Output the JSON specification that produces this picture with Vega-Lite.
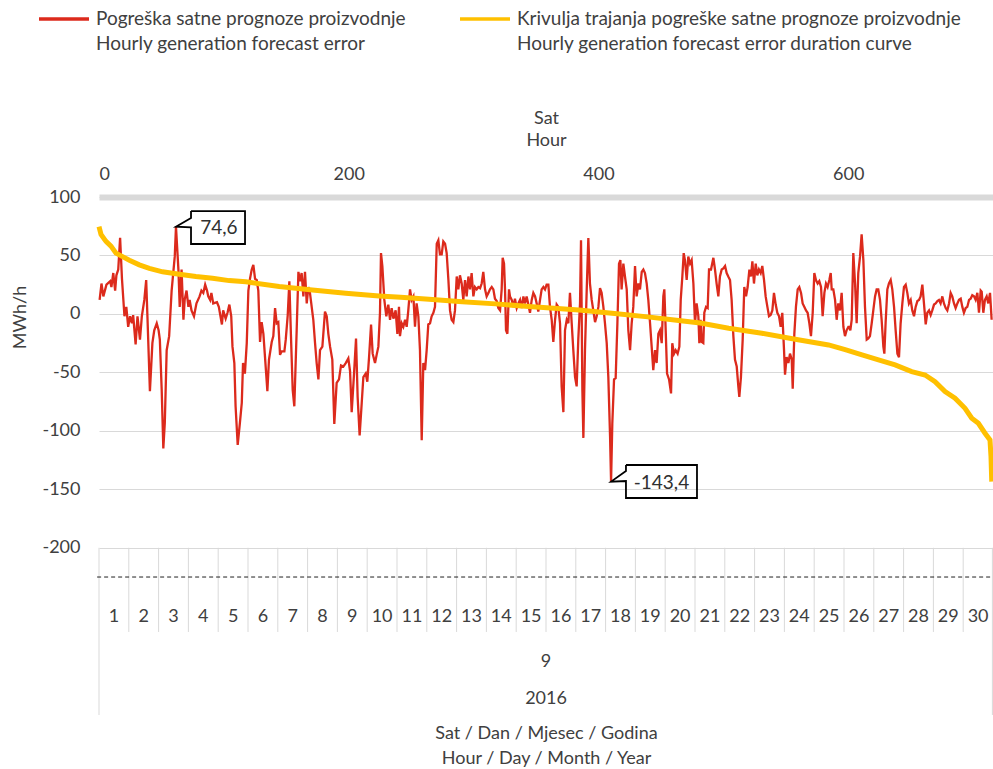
{
  "$schema": "https://vega.github.io/schema/vega-lite/v6.json",
  "width": 894,
  "height": 518,
  "autosize": {"type": "none"},
  "padding": {"left": 99, "top": 197, "right": 0, "bottom": 54},
  "config": {
    "view": {"stroke": null},
    "font": "Lato",
    "axis": {"labelFont": "Lato", "titleFont": "Lato", "labelColor": "#404040", "titleColor": "#404040", "titleFontWeight": "normal"},
    "text": {"font": "Lato", "color": "#404040", "fontSize": 18}
  },
  "datasets": {
    "red": [
      {"h":0.5,"v":12},{"h":2,"v":26},{"h":3.5,"v":15},{"h":6,"v":25},{"h":9,"v":28},{"h":10,"v":23},{"h":11.5,"v":35},{"h":13,"v":20},{"h":14,"v":33},{"h":15.5,"v":38},{"h":17,"v":65},{"h":18.5,"v":30},{"h":20.5,"v":-2},{"h":22,"v":6},{"h":23.5,"v":-11},{"h":25,"v":-2},{"h":26.5,"v":-8},{"h":27.5,"v":-1},{"h":29.5,"v":-26},{"h":31,"v":-2},{"h":33,"v":-22},{"h":34.5,"v":-2},{"h":36.5,"v":12},{"h":38,"v":29},{"h":39,"v":-2},{"h":41,"v":-66},{"h":43,"v":-25},{"h":44.5,"v":-14},{"h":46.5,"v":-8},{"h":48,"v":-14},{"h":49,"v":-22},{"h":50.5,"v":-65},{"h":51.8,"v":-115},{"h":53,"v":-93},{"h":54.5,"v":-31},{"h":56.5,"v":-19},{"h":58.5,"v":20},{"h":61,"v":49},{"h":62,"v":74.6},{"h":64,"v":37},{"h":65,"v":6},{"h":66.5,"v":38},{"h":68,"v":-5},{"h":69,"v":12},{"h":70.5,"v":20},{"h":72,"v":6},{"h":73,"v":12},{"h":74.5,"v":3},{"h":76.5,"v":-2},{"h":78.5,"v":9},{"h":81,"v":15},{"h":82.5,"v":20},{"h":84,"v":18},{"h":85.5,"v":25},{"h":87,"v":20},{"h":88,"v":15},{"h":89.5,"v":12},{"h":90.5,"v":18},{"h":92,"v":9},{"h":95,"v":10},{"h":96.5,"v":6},{"h":99,"v":-9},{"h":100,"v":3},{"h":102,"v":-4},{"h":103.5,"v":1},{"h":105,"v":8},{"h":106.5,"v":-2},{"h":107.5,"v":-28},{"h":109,"v":-42},{"h":110,"v":-79},{"h":111.7,"v":-112},{"h":113.5,"v":-93},{"h":115,"v":-76},{"h":116,"v":-42},{"h":117.5,"v":-51},{"h":119,"v":-25},{"h":120.3,"v":20},{"h":121.6,"v":30},
      {"h":123,"v":38},{"h":124.3,"v":42},{"h":125.7,"v":30},{"h":127,"v":29},{"h":128.3,"v":20},{"h":129.7,"v":-24},{"h":131,"v":-7},{"h":132.4,"v":-17},{"h":133.7,"v":-37},{"h":135.6,"v":-66},{"h":136.9,"v":-39},{"h":139.1,"v":-24},{"h":140.4,"v":-19},{"h":141.8,"v":5},{"h":143.1,"v":-8},{"h":144.4,"v":-7},{"h":145.8,"v":-35},{"h":147.1,"v":-32},{"h":149.3,"v":-32},{"h":150.4,"v":-22},{"h":152,"v":-1},{"h":153.3,"v":28},{"h":154.6,"v":-19},{"h":156,"v":-65},{"h":157.3,"v":-79},{"h":159.2,"v":-14},{"h":160.6,"v":36},{"h":161.9,"v":28},{"h":163.2,"v":35},{"h":164.6,"v":15},{"h":165.9,"v":36},{"h":167.3,"v":9},{"h":168.6,"v":23},{"h":169.9,"v":18},{"h":172.6,"v":-5},{"h":174,"v":-25},{"h":175.3,"v":-42},{"h":176.7,"v":-56},{"h":178,"v":-31},{"h":179.9,"v":-28},{"h":182,"v":2},{"h":183.4,"v":-2},{"h":184.7,"v":-17},{"h":186.1,"v":-28},{"h":187.9,"v":-39},{"h":189.5,"v":-94},{"h":191.4,"v":-59},{"h":193.3,"v":-56},{"h":194.9,"v":-44},{"h":196.8,"v":-45},{"h":198.7,"v":-42},{"h":200.8,"v":-38},{"h":202.2,"v":-49},{"h":203.5,"v":-84},{"h":205.4,"v":-51},{"h":207,"v":-21},{"h":208.3,"v":-71},{"h":209.9,"v":-104},{"h":211.6,"v":-76},{"h":212.9,"v":-54},{"h":214.8,"v":-51},{"h":216.1,"v":-58},{"h":217.5,"v":-37},{"h":219.1,"v":-9},{"h":220.4,"v":-34},{"h":222.3,"v":-42},{"h":223.6,"v":-35},{"h":225,"v":-28},{"h":226.3,"v":1},{"h":227.1,"v":52},{"h":228.2,"v":41},{"h":229.8,"v":12},{"h":231.4,"v":-2},{"h":233,"v":8},{"h":234.4,"v":-5},{"h":235.7,"v":5},{"h":237.1,"v":-4},{"h":238.9,"v":3},{"h":240.3,"v":-17},{"h":241.6,"v":6},
      {"h":242.4,"v":-19},{"h":243.8,"v":-8},{"h":245.1,"v":-11},{"h":246.5,"v":-5},{"h":247.8,"v":-11},{"h":249.1,"v":3},{"h":250.5,"v":21},{"h":251.8,"v":12},{"h":253.2,"v":15},{"h":254.5,"v":-11},{"h":255.8,"v":9},{"h":257.2,"v":-2},{"h":258.5,"v":-31},{"h":259.9,"v":-108},{"h":261.2,"v":-42},{"h":262.6,"v":-48},{"h":263.9,"v":-31},{"h":265.2,"v":-9},{"h":266.6,"v":-8},{"h":267.9,"v":-2},{"h":269.3,"v":1},{"h":270.6,"v":6},{"h":272,"v":60},{"h":273.3,"v":63},{"h":274.6,"v":51},{"h":276,"v":51},{"h":277.3,"v":62},{"h":278.7,"v":60},{"h":280,"v":52},{"h":281.4,"v":29},{"h":282.7,"v":3},{"h":284,"v":-5},{"h":285.4,"v":-7},{"h":286.7,"v":3},{"h":288.1,"v":32},{"h":289.4,"v":21},{"h":290.7,"v":33},{"h":292.1,"v":26},{"h":293.4,"v":12},{"h":294.8,"v":29},{"h":296.1,"v":15},{"h":297.5,"v":32},{"h":298.8,"v":21},{"h":300.1,"v":35},{"h":301.5,"v":15},{"h":302.8,"v":23},{"h":304.2,"v":21},{"h":305.5,"v":23},{"h":306.9,"v":22},{"h":308.2,"v":26},{"h":309.5,"v":36},{"h":310.9,"v":21},{"h":312.2,"v":15},{"h":313.6,"v":18},{"h":314.9,"v":21},{"h":316.3,"v":23},{"h":317.6,"v":21},{"h":318.9,"v":13},{"h":320.3,"v":11},{"h":321.6,"v":5},{"h":323,"v":3},{"h":324.3,"v":21},{"h":325.1,"v":48},{"h":326.2,"v":43},{"h":327,"v":21},{"h":327.8,"v":-14},{"h":328.9,"v":-17},{"h":330.2,"v":21},{"h":331,"v":15},{"h":332.4,"v":12},{"h":333.7,"v":6},{"h":335,"v":13},{"h":336.4,"v":5},{"h":337.7,"v":9},{"h":339.1,"v":12},{"h":340.4,"v":5},{"h":341.8,"v":15},{"h":343.1,"v":9},{"h":344.4,"v":15},{"h":345.8,"v":8},{"h":347.1,"v":1},{"h":348.5,"v":12},{"h":349.8,"v":18},{"h":351.2,"v":15},{"h":352.5,"v":9},{"h":353.8,"v":2},{"h":355.2,"v":12},{"h":356.5,"v":21},{"h":357.9,"v":23},{"h":359.2,"v":21},{"h":360.5,"v":25},{"h":361.9,"v":25},
      {"h":363.2,"v":6},{"h":364.6,"v":-5},{"h":365.9,"v":-24},{"h":367.3,"v":-5},{"h":368.6,"v":8},{"h":369.9,"v":6},{"h":371.3,"v":-8},{"h":372.6,"v":-62},{"h":374,"v":-84},{"h":375.3,"v":-14},{"h":376.7,"v":-5},{"h":378,"v":-8},{"h":379.3,"v":18},{"h":380.7,"v":-8},{"h":382,"v":-31},{"h":383.4,"v":-54},{"h":384.7,"v":-62},{"h":386,"v":-22},{"h":387.4,"v":9},{"h":388.2,"v":63},{"h":389.3,"v":-65},{"h":390.1,"v":-106},{"h":391.4,"v":-31},{"h":392.8,"v":21},{"h":394.1,"v":65},{"h":395.4,"v":26},{"h":396.8,"v":12},{"h":398.1,"v":3},{"h":399.5,"v":-7},{"h":400.8,"v":-2},{"h":402.2,"v":6},{"h":403.5,"v":22},{"h":404.8,"v":18},{"h":406.2,"v":6},{"h":407.5,"v":-8},{"h":408.9,"v":-25},{"h":410.2,"v":-54},{"h":411.6,"v":-105},{"h":412.4,"v":-143.4},{"h":413.4,"v":-94},{"h":414.8,"v":-56},{"h":416.1,"v":-55},{"h":417.5,"v":-8},{"h":418.8,"v":43},{"h":419.9,"v":46},{"h":420.9,"v":21},{"h":422.3,"v":43},{"h":423.6,"v":32},{"h":425,"v":21},{"h":426.3,"v":-14},{"h":427.7,"v":-31},{"h":429,"v":-8},{"h":430.3,"v":6},{"h":431.7,"v":41},{"h":433,"v":15},{"h":434.4,"v":26},{"h":435.7,"v":21},{"h":437.1,"v":36},{"h":438.4,"v":38},{"h":439.7,"v":35},{"h":441.1,"v":26},{"h":442.4,"v":12},{"h":443.8,"v":-8},{"h":445.1,"v":-28},{"h":446.4,"v":-48},{"h":447.8,"v":-31},{"h":449.1,"v":-42},{"h":450.5,"v":-17},{"h":451.8,"v":-14},{"h":453.2,"v":-25},{"h":454.5,"v":15},{"h":455.3,"v":21},{"h":456.4,"v":-14},{"h":457.5,"v":-51},{"h":459.1,"v":-56},{"h":460.7,"v":-68},{"h":461.7,"v":-25},{"h":463.1,"v":-34},{"h":464.4,"v":-31},{"h":466,"v":-34},{"h":467.4,"v":-28},{"h":468.5,"v":12},{"h":469.8,"v":32},{"h":470.9,"v":52},{"h":471.9,"v":46},{"h":473.3,"v":29},{"h":474.6,"v":49},{"h":476,"v":43},{"h":477.3,"v":46},{"h":478.7,"v":26},{"h":480,"v":-8},{"h":481.3,"v":9},{"h":482.7,"v":-2},
      {"h":483.5,"v":-25},{"h":484.5,"v":-5},{"h":485.4,"v":-24},{"h":486.7,"v":-25},{"h":487.5,"v":1},{"h":488.9,"v":6},{"h":490.2,"v":5},{"h":491.3,"v":38},{"h":492.9,"v":38},{"h":494.8,"v":48},{"h":496.1,"v":38},{"h":497.4,"v":26},{"h":498.8,"v":15},{"h":500.1,"v":32},{"h":501.5,"v":38},{"h":502.8,"v":39},{"h":504.2,"v":41},{"h":505.5,"v":35},{"h":506.8,"v":32},{"h":508.2,"v":29},{"h":509.5,"v":12},{"h":510.9,"v":-19},{"h":512.2,"v":-39},{"h":513.6,"v":-45},{"h":514.9,"v":-62},{"h":515.7,"v":-71},{"h":517,"v":-54},{"h":518.4,"v":-22},{"h":519.7,"v":23},{"h":521.1,"v":15},{"h":522.4,"v":23},{"h":523.8,"v":38},{"h":525.1,"v":32},{"h":526.2,"v":45},{"h":527.5,"v":26},{"h":528.9,"v":43},{"h":530.2,"v":33},{"h":531.5,"v":38},{"h":532.9,"v":35},{"h":534.2,"v":41},{"h":535.6,"v":29},{"h":536.9,"v":15},{"h":538.3,"v":6},{"h":539.6,"v":-2},{"h":540.9,"v":-1},{"h":542.3,"v":3},{"h":543.6,"v":18},{"h":545,"v":8},{"h":546.3,"v":1},{"h":547.7,"v":-2},{"h":549,"v":-11},{"h":550.3,"v":1},{"h":551.7,"v":-31},{"h":552.5,"v":-52},{"h":553.8,"v":-37},{"h":555.2,"v":-42},{"h":556.5,"v":-34},{"h":557.9,"v":-39},{"h":558.7,"v":-64},{"h":560,"v":-17},{"h":561.3,"v":6},{"h":562.7,"v":21},{"h":564,"v":23},{"h":565.4,"v":18},{"h":566.7,"v":9},{"h":568.1,"v":6},{"h":569.4,"v":3},{"h":570.7,"v":1},{"h":572.1,"v":-8},{"h":573.4,"v":-19},{"h":574.8,"v":1},{"h":576.1,"v":35},{"h":577.4,"v":29},{"h":578.8,"v":26},{"h":580.1,"v":28},{"h":581.5,"v":23},{"h":582.8,"v":-2},{"h":584.2,"v":18},{"h":585.5,"v":26},{"h":586.8,"v":23},{"h":588.2,"v":29},{"h":589.3,"v":35},{"h":590.1,"v":21},{"h":591.4,"v":21},{"h":592.8,"v":12},{"h":594.1,"v":-5},{"h":595.4,"v":9},{"h":596.8,"v":3},{"h":598.1,"v":18},{"h":599.5,"v":-11},{"h":600.8,"v":-19},{"h":602.1,"v":-14},{"h":603.5,"v":-11},
      {"h":604,"v":-11},{"h":605.1,"v":-14},{"h":606.2,"v":-5},{"h":607.5,"v":52},{"h":608.9,"v":26},{"h":610.2,"v":-8},{"h":611.5,"v":35},{"h":612.9,"v":49},{"h":614.2,"v":68},{"h":615.6,"v":46},{"h":616.9,"v":6},{"h":618.3,"v":-22},{"h":619.6,"v":-21},{"h":620.9,"v":-19},{"h":622.3,"v":-8},{"h":623.6,"v":3},{"h":625,"v":15},{"h":626.3,"v":21},{"h":627.6,"v":21},{"h":629,"v":12},{"h":630.3,"v":-5},{"h":631.7,"v":-28},{"h":632.5,"v":-34},{"h":633.5,"v":-8},{"h":634.9,"v":21},{"h":636.2,"v":26},{"h":637.6,"v":29},{"h":638.9,"v":21},{"h":640.3,"v":6},{"h":641.6,"v":-14},{"h":643,"v":-34},{"h":644.3,"v":-37},{"h":645.6,"v":-8},{"h":647,"v":9},{"h":648.3,"v":23},{"h":649.7,"v":25},{"h":651,"v":18},{"h":652.3,"v":9},{"h":653.7,"v":12},{"h":655,"v":3},{"h":656.4,"v":-2},{"h":657.7,"v":6},{"h":659.1,"v":11},{"h":660.4,"v":12},{"h":661.7,"v":15},{"h":663.1,"v":25},{"h":664.4,"v":9},{"h":665.8,"v":-9},{"h":667.1,"v":1},{"h":668.5,"v":3},{"h":669.8,"v":-1},{"h":671.1,"v":3},{"h":672.5,"v":8},{"h":673.8,"v":9},{"h":675.2,"v":11},{"h":676.5,"v":12},{"h":677.8,"v":9},{"h":679.2,"v":15},{"h":680.5,"v":9},{"h":681.9,"v":5},{"h":683.2,"v":3},{"h":684.6,"v":9},{"h":685.9,"v":18},{"h":687.2,"v":15},{"h":688.6,"v":9},{"h":689.9,"v":5},{"h":691.3,"v":9},{"h":692.6,"v":12},{"h":694,"v":13},{"h":695.3,"v":6},{"h":696.6,"v":1},{"h":698,"v":5},{"h":699.3,"v":6},{"h":700.7,"v":12},{"h":702,"v":13},{"h":703.3,"v":16},{"h":704.7,"v":15},{"h":706,"v":12},{"h":707.4,"v":18},{"h":708.7,"v":1},{"h":710.1,"v":20},{"h":710.9,"v":19},{"h":712.2,"v":1},{"h":713.5,"v":12},{"h":714.9,"v":15},{"h":716.2,"v":9},{"h":717.6,"v":18},{"h":718.9,"v":-5}
    ],
    "yellow": [
      {"r":0,"v":74.6},{"r":1.6,"v":68},{"r":5.6,"v":62},{"r":9.6,"v":58},{"r":13.6,"v":52},{"r":18.9,"v":49},{"r":24.3,"v":46},{"r":32.3,"v":42},{"r":40.3,"v":39},{"r":50.9,"v":36},{"r":64.3,"v":34},{"r":77.6,"v":32},{"r":90.9,"v":30.5},{"r":104.3,"v":28.5},{"r":117.6,"v":27.5},{"r":144.3,"v":23.4},{"r":170.9,"v":20.5},{"r":197.6,"v":17.7},{"r":224.3,"v":15.4},{"r":241.6,"v":14.3},{"r":264.3,"v":12.5},{"r":290.9,"v":10.5},{"r":317.6,"v":8.6},{"r":344.3,"v":6.3},{"r":361.6,"v":5},{"r":384.3,"v":3.4},{"r":410.9,"v":0.5},{"r":437.6,"v":-2.3},{"r":464.3,"v":-5.7},{"r":481.6,"v":-7.8},{"r":504.3,"v":-12.3},{"r":530.9,"v":-16.5},{"r":557.6,"v":-21.7},{"r":584.3,"v":-26.5},{"r":597.6,"v":-30.5},{"r":611.1,"v":-35},{"r":624.3,"v":-39.3},{"r":637.6,"v":-43.6},{"r":650.9,"v":-49.3},{"r":661.6,"v":-52.2},{"r":669.6,"v":-57.9},{"r":677.6,"v":-66.4},{"r":685.6,"v":-72.1},{"r":693.6,"v":-80.7},{"r":699,"v":-89.2},{"r":704.3,"v":-93.5},{"r":709.6,"v":-102},{"r":713.6,"v":-107.8},{"r":714.4,"v":-122},{"r":715,"v":-143.4}
    ],
    "sep": [
      {"h":0,"a":-200,"b":-343},{"h":24,"a":-200,"b":-272},{"h":48,"a":-200,"b":-272},{"h":72,"a":-200,"b":-272},{"h":96,"a":-200,"b":-272},{"h":120,"a":-200,"b":-272},{"h":144,"a":-200,"b":-272},{"h":168,"a":-200,"b":-272},{"h":192,"a":-200,"b":-272},{"h":216,"a":-200,"b":-272},{"h":240,"a":-200,"b":-272},{"h":264,"a":-200,"b":-272},{"h":288,"a":-200,"b":-272},{"h":312,"a":-200,"b":-272},{"h":336,"a":-200,"b":-272},{"h":360,"a":-200,"b":-272},{"h":384,"a":-200,"b":-272},{"h":408,"a":-200,"b":-272},{"h":432,"a":-200,"b":-272},{"h":456,"a":-200,"b":-272},{"h":480,"a":-200,"b":-272},{"h":504,"a":-200,"b":-272},{"h":528,"a":-200,"b":-272},{"h":552,"a":-200,"b":-272},{"h":576,"a":-200,"b":-272},{"h":600,"a":-200,"b":-272},{"h":624,"a":-200,"b":-272},{"h":648,"a":-200,"b":-272},{"h":672,"a":-200,"b":-272},{"h":696,"a":-200,"b":-272},{"h":719.5,"a":-200,"b":-343}
    ],
    "days": [
      {"h":12,"d":"1"},{"h":36,"d":"2"},{"h":60,"d":"3"},{"h":84,"d":"4"},{"h":108,"d":"5"},{"h":132,"d":"6"},{"h":156,"d":"7"},{"h":180,"d":"8"},{"h":204,"d":"9"},{"h":228,"d":"10"},{"h":252,"d":"11"},{"h":276,"d":"12"},{"h":300,"d":"13"},{"h":324,"d":"14"},{"h":348,"d":"15"},{"h":372,"d":"16"},{"h":396,"d":"17"},{"h":420,"d":"18"},{"h":444,"d":"19"},{"h":468,"d":"20"},{"h":492,"d":"21"},{"h":516,"d":"22"},{"h":540,"d":"23"},{"h":564,"d":"24"},{"h":588,"d":"25"},{"h":612,"d":"26"},{"h":636,"d":"27"},{"h":660,"d":"28"},{"h":684,"d":"29"},{"h":708,"d":"30"}
    ],
    "upper": [
      {"h":360,"v":-297.5,"t":"9"},{"h":360,"v":-329,"t":"2016"}
    ],
    "dash": [
      {"h":-1.5,"h2":719,"v":-225}
    ],
    "ann": [
      {"g":1,"o":0,"h":74.1,"v":88},{"g":1,"o":1,"h":117.6,"v":88},{"g":1,"o":2,"h":117.6,"v":59.8},{"g":1,"o":3,"h":74.1,"v":59.8},{"g":1,"o":4,"h":74.1,"v":74},{"g":1,"o":5,"h":62,"v":74.6},{"g":1,"o":6,"h":74.1,"v":82},{"g":1,"o":7,"h":74.1,"v":88},
      {"g":2,"o":0,"h":424.4,"v":-129.2},{"g":2,"o":1,"h":481.6,"v":-129.2},{"g":2,"o":2,"h":481.6,"v":-157.4},{"g":2,"o":3,"h":424.4,"v":-157.4},{"g":2,"o":4,"h":424.4,"v":-142.9},{"g":2,"o":5,"h":412.4,"v":-143.4},{"g":2,"o":6,"h":424.4,"v":-134.3},{"g":2,"o":7,"h":424.4,"v":-129.2}
    ],
    "annText": [
      {"h":96.6,"v":73.5,"t":"74,6"},{"h":453,"v":-145,"t":"-143,4"}
    ]
  },
  "layer": [
    {
      "layer": [
        {
          "data": {"name": "sep"},
          "mark": {"type": "rule", "color": "#d9d9d9", "strokeWidth": 1},
          "encoding": {
            "x": {"field": "h", "type": "quantitative", "scale": {"domain": [0, 720], "nice": false, "zero": false},
              "axis": {"labels": false, "ticks": false, "domain": false, "grid": false, "title": ["Sat / Dan / Mjesec / Godina", "Hour / Day / Month / Year"], "titleFontSize": 18, "titleLineHeight": 25, "titlePadding": 9}},
            "y": {"field": "a", "type": "quantitative", "scale": {"domain": [-343, 100], "nice": false, "zero": false},
              "axis": {"values": [100, 50, 0, -50, -100, -150, -200], "labelExpr": "toString(datum.value)", "grid": true, "gridColor": "#d9d9d9", "domain": false, "ticks": false, "labelPadding": 19, "labelFontSize": 18, "title": "MWh/h", "titleFontSize": 18, "titleAngle": -90, "titleX": -79, "titleY": 120, "titleBaseline": "middle", "titleAlign": "center"}},
            "y2": {"field": "b"}
          }
        },
        {
          "data": {"name": "dash"},
          "mark": {"type": "rule", "color": "#202020", "strokeWidth": 1, "strokeDash": [4, 3]},
          "encoding": {
            "x": {"field": "h", "type": "quantitative"},
            "x2": {"field": "h2"},
            "y": {"field": "v", "type": "quantitative"}
          }
        },
        {
          "data": {"name": "days"},
          "mark": {"type": "text", "baseline": "middle", "align": "center"},
          "encoding": {
            "x": {"field": "h", "type": "quantitative"},
            "y": {"datum": -259},
            "text": {"field": "d"}
          }
        },
        {
          "data": {"name": "upper"},
          "mark": {"type": "text", "baseline": "middle", "align": "center"},
          "encoding": {
            "x": {"field": "h", "type": "quantitative"},
            "y": {"field": "v", "type": "quantitative"},
            "text": {"field": "t"}
          }
        },
        {
          "data": {"name": "red"},
          "mark": {"type": "line", "strokeWidth": 2.3},
          "encoding": {
            "x": {"field": "h", "type": "quantitative"},
            "y": {"field": "v", "type": "quantitative"},
            "color": {"datum": "Pogreška satne prognoze proizvodnje|Hourly generation forecast error",
              "scale": {"domain": ["Pogreška satne prognoze proizvodnje|Hourly generation forecast error", "Krivulja trajanja pogreške satne prognoze proizvodnje|Hourly generation forecast error duration curve"], "range": ["#dc2a1c", "#ffc000"]},
              "legend": {"orient": "none", "legendX": -62, "legendY": -205, "direction": "horizontal", "title": null, "labelExpr": "split(datum.label, '|')", "labelFont": "Lato", "labelFontSize": 19, "labelColor": "#404040", "symbolType": "stroke", "symbolSize": 2500, "symbolStrokeWidth": 3.5, "labelLimit": 0, "columnPadding": 47, "labelOffset": 5,
                "encode": {"labels": {"update": {"lineHeight": {"value": 25}}}}}}
          }
        },
        {
          "data": {"name": "ann"},
          "mark": {"type": "line", "color": "#000000", "strokeWidth": 1.8},
          "encoding": {
            "x": {"field": "h", "type": "quantitative"},
            "y": {"field": "v", "type": "quantitative"},
            "detail": {"field": "g"},
            "order": {"field": "o"}
          }
        },
        {
          "data": {"name": "annText"},
          "mark": {"type": "text", "baseline": "middle", "align": "center", "fontSize": 19, "color": "#303030"},
          "encoding": {
            "x": {"field": "h", "type": "quantitative"},
            "y": {"field": "v", "type": "quantitative"},
            "text": {"field": "t"}
          }
        }
      ]
    },
    {
      "data": {"name": "yellow"},
      "mark": {"type": "line", "strokeWidth": 5},
      "encoding": {
        "x": {"field": "r", "type": "quantitative", "scale": {"domain": [0, 716], "nice": false, "zero": false},
          "axis": {"orient": "top", "values": [0, 200, 400, 600], "labelFontSize": 18, "ticks": false, "grid": false, "domainColor": "#d9d9d9", "domainWidth": 6, "labelPadding": 14, "title": ["Sat", "Hour"], "titleFontSize": 18, "titleLineHeight": 22, "titlePadding": 16}},
        "y": {"field": "v", "type": "quantitative"},
        "color": {"datum": "Krivulja trajanja pogreške satne prognoze proizvodnje|Hourly generation forecast error duration curve"}
      }
    }
  ],
  "resolve": {"scale": {"x": "independent"}}
}
